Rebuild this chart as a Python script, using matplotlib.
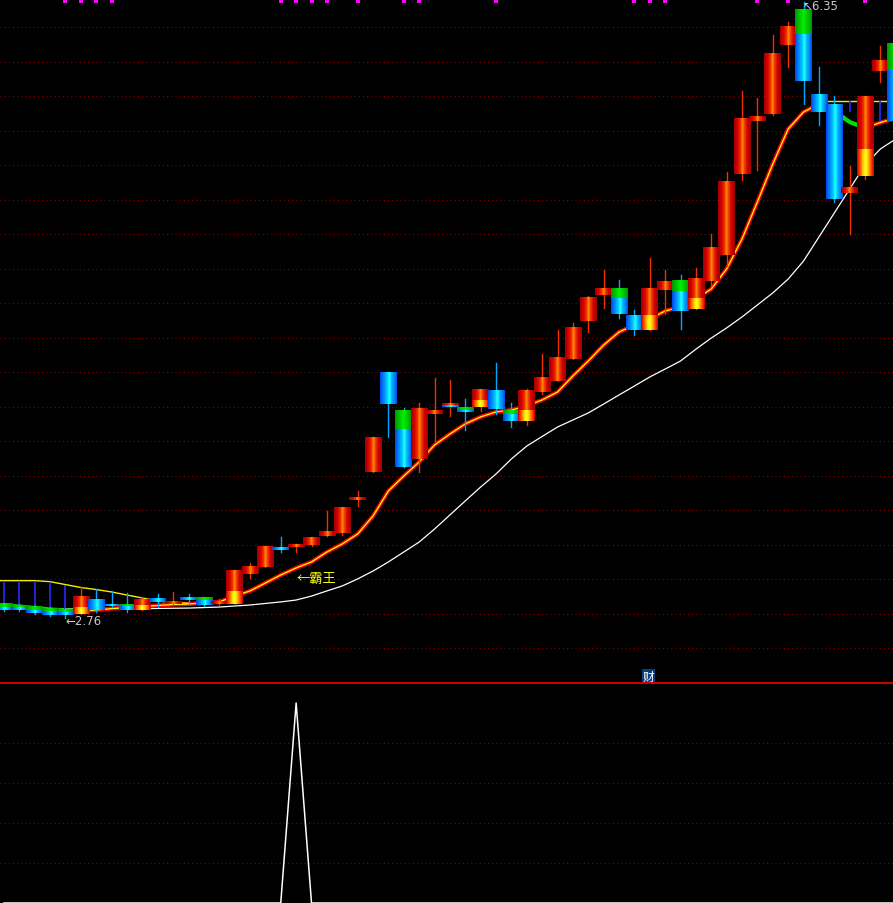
import numpy as np
import matplotlib
matplotlib.use("Agg")
import matplotlib.pyplot as plt
from matplotlib.colors import LinearSegmentedColormap

# ---------------- data ----------------
opens = [2.839, 2.833, 2.821, 2.810, 2.804, 2.780, 2.868, 2.833, 2.839, 2.806,
         2.868, 2.839, 2.880, 2.880, 2.839, 2.839, 3.014, 3.056, 3.171, 3.173,
         3.183, 3.237, 3.253, 3.447, 3.607, 4.186, 3.970, 3.685, 3.947, 3.990,
         3.982, 3.990, 4.081, 3.970, 3.908, 4.074, 4.141, 4.268, 4.491, 4.641,
         4.676, 4.524, 4.437, 4.670, 4.729, 4.559, 4.724, 4.874, 5.347, 5.658,
         5.697, 6.099, 6.303, 5.813, 5.755, 5.236, 5.337, 5.949, 6.105]
highs = [2.839, 2.839, 2.833, 2.821, 2.815, 2.938, 2.926, 2.911, 2.903, 2.880,
         2.897, 2.911, 2.897, 2.880, 2.868, 3.037, 3.078, 3.175, 3.230, 3.189,
         3.230, 3.383, 3.399, 3.500, 3.811, 4.192, 3.982, 4.011, 4.157, 4.145,
         4.035, 4.093, 4.244, 4.011, 4.093, 4.297, 4.439, 4.478, 4.635, 4.787,
         4.729, 4.554, 4.857, 4.787, 4.758, 4.799, 4.997, 5.359, 5.833, 5.790,
         6.158, 6.232, 6.350, 5.969, 5.802, 5.395, 5.800, 6.095, 6.105]
lows = [2.798, 2.798, 2.780, 2.766, 2.760, 2.780, 2.792, 2.821, 2.792, 2.804,
        2.821, 2.833, 2.839, 2.827, 2.833, 2.839, 2.990, 3.056, 3.142, 3.142,
        3.177, 3.237, 3.243, 3.412, 3.607, 3.815, 3.638, 3.607, 3.791, 3.937,
        3.855, 3.966, 3.947, 3.869, 3.885, 4.064, 4.141, 4.268, 4.427, 4.565,
        4.507, 4.408, 4.437, 4.530, 4.443, 4.559, 4.694, 4.810, 5.314, 5.372,
        5.691, 5.973, 5.755, 5.634, 5.182, 4.997, 5.318, 5.885, 5.658]
closes = [2.804, 2.804, 2.786, 2.772, 2.775, 2.881, 2.806, 2.827, 2.804, 2.868,
          2.849, 2.856, 2.864, 2.833, 2.856, 3.037, 3.059, 3.175, 3.156, 3.189,
          3.228, 3.261, 3.399, 3.463, 3.811, 4.005, 3.640, 3.982, 3.970, 4.011,
          3.960, 4.093, 3.976, 3.908, 4.081, 4.157, 4.279, 4.453, 4.628, 4.676,
          4.530, 4.437, 4.676, 4.719, 4.550, 4.734, 4.921, 5.302, 5.673, 5.687,
          6.047, 6.204, 5.891, 5.710, 5.201, 5.269, 5.800, 6.008, 5.658]
# price where the body changes colour (None = single colour)
splits = [2.821, 2.818, 2.801, 2.792, 2.792, 2.815, None, None, 2.823, 2.835,
          None, None, None, 2.858, None, 2.911, None, None, None, None,
          None, None, None, None, None, None, 3.860, None, None, 4.000,
          3.970, 4.029, None, 3.947, 3.970, None, None, None, None, None,
          4.622, None, 4.524, None, 4.666, 4.622, None, None, None, None,
          None, None, 6.163, None, None, None, 5.493, None, 5.953]
# body colour codes: top part / bottom part
kinds = ["GB", "GB", "GB", "GB", "GB", "RY", "B", "B", "GB", "RY",
         "B", "R", "B", "GB", "R", "RY", "R", "R", "B", "R",
         "R", "R", "R", "R", "R", "B", "GB", "R", "R", "RB",
         "GB", "RY", "B", "GB", "RY", "R", "R", "R", "R", "R",
         "GB", "B", "RY", "R", "GB", "RY", "R", "R", "R", "R",
         "R", "R", "GB", "B", "B", "R", "RY", "R", "GB"]

# line series, candle index -1 .. 58
ma_fast = [2.833, 2.830, 2.824, 2.815, 2.807, 2.801, 2.798, 2.804, 2.812, 2.818,
           2.824, 2.830, 2.836, 2.839, 2.845, 2.851, 2.885, 2.915, 2.961, 3.008,
           3.049, 3.084, 3.142, 3.189, 3.247, 3.352, 3.498, 3.585, 3.667, 3.766,
           3.830, 3.889, 3.930, 3.959, 3.970, 3.994, 4.029, 4.075, 4.169, 4.256,
           4.349, 4.425, 4.466, 4.501, 4.548, 4.571, 4.618, 4.676, 4.793, 4.968,
           5.184, 5.405, 5.609, 5.708, 5.755, 5.714, 5.650, 5.615, 5.647, 5.673]
ma_slow = [2.812, 2.812, 2.811, 2.811, 2.810, 2.810, 2.810, 2.810, 2.810, 2.811,
           2.811, 2.813, 2.814, 2.815, 2.818, 2.821, 2.827, 2.833, 2.842, 2.851,
           2.862, 2.885, 2.915, 2.944, 2.985, 3.031, 3.084, 3.142, 3.200, 3.276,
           3.358, 3.440, 3.521, 3.597, 3.685, 3.760, 3.816, 3.871, 3.912, 3.953,
           4.005, 4.058, 4.110, 4.163, 4.209, 4.256, 4.325, 4.390, 4.449, 4.513,
           4.583, 4.653, 4.734, 4.839, 4.979, 5.119, 5.259, 5.399, 5.493, 5.551]
# yellow level line, left part (index -1 .. 12) and right part (53 .. 58)
yellow_left = [2.975, 2.975, 2.975, 2.975, 2.969, 2.952, 2.935, 2.923, 2.909,
               2.891, 2.874, 2.856, 2.847, 2.843]
yellow_right = [5.774, 5.774, 5.774, 5.774, 5.774, 5.774]
# blue vertical marks
vline_idx = [0, 1, 2, 3, 4, 55, 57]
vline_top = [2.975, 2.975, 2.975, 2.969, 2.952, 5.774, 5.774]
vline_bot = [2.810, 2.810, 2.780, 2.780, 2.780, 5.708, 5.658]
# magenta signal dots on top edge
signal_idx = [4, 5, 6, 7, 18, 19, 20, 21, 23, 26, 27, 32, 41, 42, 43, 49, 51, 56]
# lower indicator
lower_vals = [0] * 19 + [1] + [0] * 39

low_idx, low_text = 4, "←2.76"
high_idx, high_text = 52, "↖6.35"
name_text = "←霸王"
cai_text = "财"

# ---------------- figure ----------------
W_PX, H_PX = 893, 904
MAIN_H = 684
fig = plt.figure(figsize=(W_PX / 100, H_PX / 100), dpi=100, facecolor="black")
ax = fig.add_axes([0, 1 - MAIN_H / H_PX, 1, MAIN_H / H_PX])
ax2 = fig.add_axes([0, 0, 1, 1 - MAIN_H / H_PX])
for a in (ax, ax2):
    a.set_facecolor("black")
    a.set_xticks([]); a.set_yticks([])
    for s in a.spines.values():
        s.set_visible(False)

XLIM = (-0.26, 57.82)
YLIM = (2.378, 6.3675)

grid_kw = dict(ls=(0, (1, 3)), lw=0.75, color="#8c0000", zorder=0)
for k in range(19):
    f = 1 - (28 + 34.5 * k) / MAIN_H
    ax.plot([0, 1], [f, f], transform=ax.transAxes, **grid_kw)
for v in (0.2, 0.4, 0.6, 0.8):
    ax2.axhline(v, **grid_kw)

# colour gradients for candle bodies
cmaps = {
    "R": LinearSegmentedColormap.from_list("r", [(0, "#a00000"), (0.2, "#d40000"), (0.38, "#f03000"),
                                                 (0.5, "#ff8a00"), (0.62, "#f04000"), (0.8, "#d00000"),
                                                 (1, "#a00000")]),
    "Y": LinearSegmentedColormap.from_list("y", [(0, "#d00000"), (0.18, "#ff5000"), (0.35, "#ffd000"),
                                                 (0.5, "#ffff20"), (0.65, "#ffd000"), (0.82, "#ff5000"),
                                                 (1, "#d00000")]),
    "B": LinearSegmentedColormap.from_list("b", [(0, "#0048e8"), (0.25, "#0090ff"), (0.45, "#00d8ff"),
                                                 (0.55, "#20ffff"), (0.72, "#00b0ff"), (1, "#0050e8")]),
    "G": LinearSegmentedColormap.from_list("g", [(0, "#009800"), (0.3, "#00cc00"), (0.5, "#00f000"),
                                                 (0.7, "#00cc00"), (1, "#009800")]),
}
imgs = {k: c(np.linspace(0, 1, 64))[None, :, :3] for k, c in cmaps.items()}
BW = 1.08
MINH = 0.008


def body(x, c, y0, y1):
    lo, hi = min(y0, y1), max(y0, y1)
    if hi - lo < MINH:
        m = (hi + lo) / 2
        lo, hi = m - MINH / 2, m + MINH / 2
    ax.imshow(imgs[c], extent=(x - BW / 2, x + BW / 2, lo, hi), aspect="auto",
              interpolation="nearest", zorder=4)


for i in range(len(opens)):
    o, h, l, c = opens[i], highs[i], lows[i], closes[i]
    kd = kinds[i]
    up = kd[0] in "R"
    ax.plot([i, i], [l, h], color="#f03000" if up else "#00a8ff", lw=1.0, zorder=3)
    top, bot = max(o, c), min(o, c)
    if len(kd) == 1:
        body(i, kd, bot, top)
    else:
        sp = splits[i]
        body(i, kd[0], sp, top)
        body(i, kd[1], bot, sp)

# lines
xs = np.arange(-1, 59)
ax.plot(xs, ma_slow, color="white", lw=0.9, zorder=1)

ma = np.array(ma_fast)
seg_start = 0
for k in range(1, len(ma)):
    rising = ma[k] >= ma[k - 1]
    end_run = (k == len(ma) - 1) or ((ma[k + 1] >= ma[k]) != rising)
    if end_run:
        xx = xs[seg_start:k + 1]
        yy = ma[seg_start:k + 1]
        if rising:
            ax.plot(xx, yy, color="#f00000", lw=3.0, zorder=2, solid_capstyle="butt")
            ax.plot(xx, yy, color="#ffff00", lw=0.9, zorder=2.1)
        else:
            ax.plot(xx, yy, color="#00e000", lw=3.0, zorder=2, solid_capstyle="butt")
        seg_start = k

ax.plot(np.arange(-1, 13), yellow_left, color="#f0f000", lw=1.0, zorder=2)
ax.plot(np.arange(53, 59), yellow_right, color="#f0f000", lw=1.0, zorder=2)
ax.vlines(vline_idx, vline_bot, vline_top, color="#2a2aff", lw=1.2, zorder=2)

ax.scatter(signal_idx, [1 - 1.5 / MAIN_H] * len(signal_idx), transform=ax.get_xaxis_transform(),
           marker="s", s=5, color="#ff00ff", lw=0, clip_on=False, zorder=6)

# labels
ax.text(low_idx, lows[low_idx] - 0.02, low_text, color="#c8c8c8", fontsize=8.5,
        ha="left", va="center", zorder=6)
ax.text(high_idx - 0.1, highs[high_idx] - 0.023, high_text, color="#c8c8c8", fontsize=8.5,
        ha="left", va="center", zorder=6)
ax.text(19.04, 2.985, name_text, color="#ffff00", fontsize=9.5, ha="left", va="center",
        family=["Noto Sans CJK SC", "DejaVu Sans"], zorder=6)
ax.text(41.92, 0.0102, cai_text, color="white", fontsize=8.5, ha="center", va="center",
        transform=ax.get_xaxis_transform(), family=["Noto Sans CJK SC", "DejaVu Sans"],
        bbox=dict(boxstyle="square,pad=0.08", fc="#0a3c7a", ec="none"), zorder=7)

ax.set_xlim(*XLIM)
ax.set_ylim(*YLIM)

# lower panel
ax2.plot(np.arange(len(lower_vals)), lower_vals, color="white", lw=1.1, zorder=3)
ax2.plot([0, 1], [1, 1], transform=ax2.transAxes, color="#e00000", lw=1.3, clip_on=False, zorder=5)
ax2.set_xlim(*XLIM)
ax2.set_ylim(0, 1.1)

fig.savefig("out.png", dpi=100, facecolor="black")
